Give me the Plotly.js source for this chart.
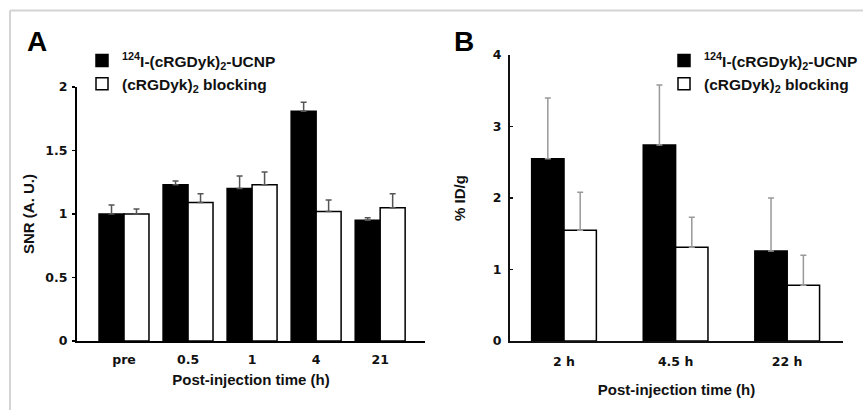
<!DOCTYPE html>
<html>
<head>
<meta charset="utf-8">
<script src="https://cdn.plot.ly/plotly-3.0.1.min.js"></script>
<style>html,body{margin:0;padding:0;background:#fff;}#chart{width:863px;height:410px;}</style>
</head>
<body>
<div id="chart"></div>
<script>
// Panel A data
var catsA = ["pre", "0.5", "1", "4", "21"];
var snrTargeted = [1.00, 1.23, 1.20, 1.81, 0.95];
var snrTargetedErr = [0.07, 0.03, 0.10, 0.07, 0.02];
var snrBlocking = [1.00, 1.09, 1.23, 1.02, 1.05];
var snrBlockingErr = [0.04, 0.07, 0.10, 0.09, 0.11];
var yTicksA = [0, 0.5, 1, 1.5, 2];
var yTickTextA = ["0", "0.5", "1", "1.5", "2"];

// Panel B data
var catsB = ["2 h", "4.5 h", "22 h"];
var idTargeted = [2.55, 2.74, 1.26];
var idTargetedErr = [0.85, 0.84, 0.74];
var idBlocking = [1.55, 1.31, 0.78];
var idBlockingErr = [0.53, 0.42, 0.42];
var yTicksB = [0, 1, 2, 3, 4];

var nameT = "<sup>124</sup>I-(cRGDyk)<sub>2</sub>-UCNP";
var nameB = "(cRGDyk)<sub>2</sub> blocking";

var W = 863, H = 410;
function px(x){return x/W;}
function py(y){return (H-y)/H;}

var tickFont = {family:"DejaVu Sans", size:12.5, color:"#111", weight:"bold"};
var titleFont = {family:"Liberation Sans, Arial", size:15, color:"#111", weight:"bold"};

var traces = [
  {type:"bar", x:catsA, y:snrTargeted, name:nameT, xaxis:"x", yaxis:"y",
   offset:-0.39, width:0.39, marker:{color:"#000", line:{color:"#000", width:1.5}},
   error_y:{type:"data", array:snrTargetedErr, arrayminus:snrTargetedErr.map(function(){return 0;}), symmetric:false, color:"#555", thickness:1.5, width:3},
   legend:"legend", legendrank:1},
  {type:"bar", x:catsA, y:snrBlocking, name:nameB, xaxis:"x", yaxis:"y",
   offset:0, width:0.39, marker:{color:"#fff", line:{color:"#000", width:1.5}},
   error_y:{type:"data", array:snrBlockingErr, arrayminus:snrBlockingErr.map(function(){return 0;}), symmetric:false, color:"#555", thickness:1.5, width:3},
   legend:"legend", legendrank:2},
  {type:"bar", x:catsB, y:idTargeted, name:nameT, xaxis:"x2", yaxis:"y2",
   offset:-0.29, width:0.29, marker:{color:"#000", line:{color:"#000", width:1.5}},
   error_y:{type:"data", array:idTargetedErr, arrayminus:idTargetedErr.map(function(){return 0;}), symmetric:false, color:"#999", thickness:1.5, width:3},
   legend:"legend2", legendrank:1},
  {type:"bar", x:catsB, y:idBlocking, name:nameB, xaxis:"x2", yaxis:"y2",
   offset:0, width:0.29, marker:{color:"#fff", line:{color:"#000", width:1.5}},
   error_y:{type:"data", array:idBlockingErr, arrayminus:idBlockingErr.map(function(){return 0;}), symmetric:false, color:"#999", thickness:1.5, width:3},
   legend:"legend2", legendrank:2}
];

var legendFont = {family:"Liberation Sans, Arial", size:15.5, color:"#111", weight:"bold"};

var layout = {
  width:W, height:H, margin:{l:0,r:0,t:0,b:0},
  paper_bgcolor:"#fff", plot_bgcolor:"rgba(0,0,0,0)",
  barmode:"overlay", showlegend:true,
  font:{family:"Liberation Sans, Arial", color:"#111"},
  xaxis:{domain:[px(77), px(425)], type:"category", range:[-0.734, 4.70],
    showline:true, linecolor:"#000", linewidth:2, ticks:"", showgrid:false, zeroline:false,
    tickfont:tickFont, ticklabelstandoff:6, fixedrange:true,
    title:{text:"Post-injection time (h)", font:titleFont, standoff:8}, anchor:"y"},
  yaxis:{domain:[py(341), py(87)], range:[0,2], tickvals:yTicksA, ticktext:yTickTextA,
    showline:true, linecolor:"#000", linewidth:2, ticks:"outside", ticklen:3, tickwidth:1.5, tickcolor:"#000",
    showgrid:false, zeroline:false, tickfont:tickFont, ticklabelstandoff:2,
    title:{text:"SNR (A. U.)", font:titleFont, standoff:7}, anchor:"x"},
  xaxis2:{domain:[px(510), px(843)], type:"category", range:[-0.484, 2.50],
    showline:true, linecolor:"#111", linewidth:2, ticks:"", showgrid:false, zeroline:false,
    tickfont:tickFont, ticklabelstandoff:8,
    title:{text:"Post-injection time (h)", font:titleFont, standoff:16}, anchor:"y2"},
  yaxis2:{domain:[py(341), py(55)], range:[0,4], tickvals:yTicksB,
    showline:true, linecolor:"#111", linewidth:2, ticks:"inside", ticklen:3, tickwidth:1.5, tickcolor:"#111",
    showgrid:false, zeroline:false, tickfont:tickFont, ticklabelstandoff:4,
    title:{text:"% ID/g", font:titleFont, standoff:24}, anchor:"x2"},
  legend:{x:px(82), y:py(44), xanchor:"left", yanchor:"top", bgcolor:"rgba(0,0,0,0)",
    font:legendFont, traceorder:"normal", itemclick:false},
  legend2:{x:px(664), y:py(44), xanchor:"left", yanchor:"top", bgcolor:"rgba(0,0,0,0)",
    font:legendFont, traceorder:"normal", itemclick:false},
  annotations:[
    {text:"<b>A</b>", xref:"paper", yref:"paper", x:px(25), y:py(24), xanchor:"left", yanchor:"top", showarrow:false,
     font:{family:"Liberation Sans, Arial", size:28, color:"#000"}},
    {text:"<b>B</b>", xref:"paper", yref:"paper", x:px(452), y:py(24), xanchor:"left", yanchor:"top", showarrow:false,
     font:{family:"Liberation Sans, Arial", size:28, color:"#000"}}
  ],
  shapes:[
    {type:"line", xref:"paper", yref:"paper", x0:px(10), x1:1, y0:py(10.5), y1:py(10.5), line:{color:"#d4d4d4", width:2}},
    {type:"line", xref:"paper", yref:"paper", x0:px(10), x1:px(10), y0:py(10.5), y1:0, line:{color:"#d4d4d4", width:2}}
  ]
};

Plotly.newPlot("chart", traces, layout, {displayModeBar:false, staticPlot:true});
</script>
</body>
</html>
